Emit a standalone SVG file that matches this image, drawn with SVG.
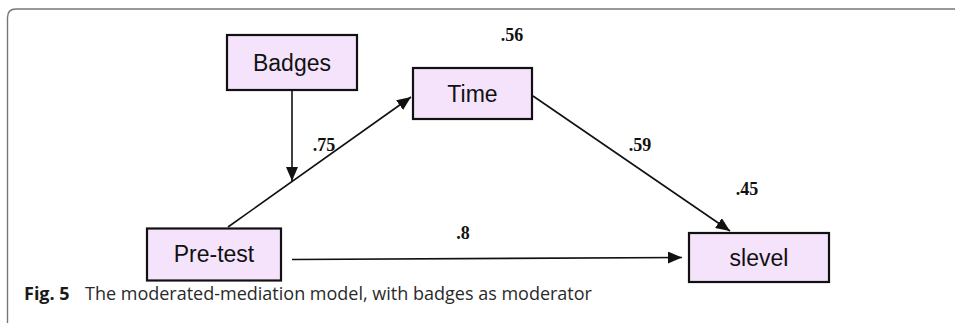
<svg xmlns="http://www.w3.org/2000/svg" width="955" height="323" viewBox="0 0 955 323">
<style>
.node rect{fill:#f5e3fc;stroke:#111;stroke-width:2.2}
.node text{font-family:"Liberation Sans",Arial,sans-serif;font-size:23px;fill:#111;text-anchor:middle}
.lbl{font-family:"Liberation Serif","Times New Roman",serif;font-size:18px;font-weight:bold;fill:#111;text-anchor:middle}
.edge{stroke:#111;stroke-width:1.6;fill:none;marker-end:url(#ah)}
.cap{font-family:"Open Sans",sans-serif;font-size:18px;fill:#2a2a2a}
</style>
<defs>
<marker id="ah" viewBox="0 0 14 12" refX="14" refY="6" markerWidth="14" markerHeight="12" markerUnits="userSpaceOnUse" orient="auto">
<path d="M0,0 L14,6 L0,12 Z" fill="#111"/>
</marker>
</defs>
<rect width="955" height="323" fill="#fff"/>
<path d="M955,9 H16 Q7.5,9 7.5,17.5 V323" fill="none" stroke="#777" stroke-width="1.4"/>
<g id="connectors">
<line class="edge" x1="228" y1="227" x2="411" y2="97"/>
<line class="edge" x1="292" y1="90" x2="292" y2="181"/>
<line class="edge" x1="533" y1="96" x2="730" y2="231"/>
<line class="edge" x1="292" y1="259.5" x2="682" y2="257.5"/>
</g>
<g id="node-badges" class="node"><rect x="227" y="35" width="130" height="55"/><text x="292" y="71">Badges</text></g>
<g id="node-time" class="node"><rect x="413" y="68" width="119" height="51"/><text x="472.5" y="102">Time</text></g>
<g id="node-pretest" class="node"><rect x="147" y="228.5" width="134" height="52"/><text x="214" y="262">Pre-test</text></g>
<g id="node-slevel" class="node"><rect x="689" y="233" width="140" height="49"/><text x="759" y="266">slevel</text></g>
<g id="labels">
<text class="lbl" x="512" y="41">.56</text>
<text class="lbl" x="324" y="151">.75</text>
<text class="lbl" x="640" y="151">.59</text>
<text class="lbl" x="747" y="195">.45</text>
<text class="lbl" x="463" y="239">.8</text>
</g>
<text class="cap" x="24" y="300"><tspan font-weight="bold" fill="#1a1a1a">Fig. 5</tspan><tspan x="85">The moderated-mediation model, with badges as moderator</tspan></text>
</svg>
